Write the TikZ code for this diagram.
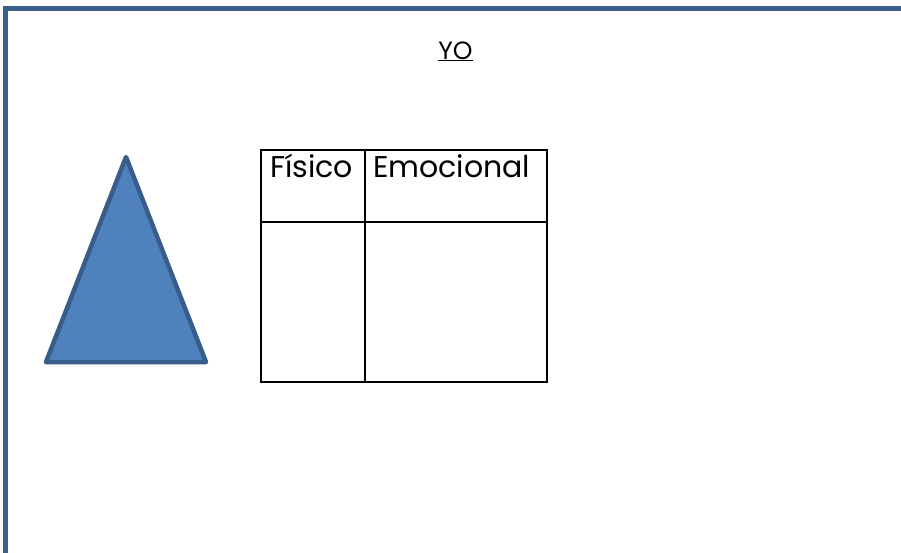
\documentclass[tikz,border=0pt]{standalone}
\usepackage{fontspec}
\setmainfont{Poppins}
\definecolor{frameblue}{HTML}{3A5F8C}
\definecolor{trifill}{HTML}{4F81BD}
\definecolor{triline}{HTML}{385D8A}
\tikzset{
  frameline/.style={draw=frameblue, line width=5pt},
  triangleshape/.style={draw=triline, fill=trifill, line width=4.5pt, line join=round},
  gridline/.style={draw=black, line width=2pt},
  celltext/.style={font=\fontsize{30}{35}\selectfont, inner sep=0pt, anchor=base west},
}
\begin{document}
\begin{tikzpicture}[x=1pt,y=-1pt]
\useasboundingbox (0,0) rectangle (901,552);
\fill[white] (0,0) rectangle (901,552);
% outer frame (extends beyond right and bottom)
\draw[frameline] (5.5,570) -- (5.5,8.5) -- (920,8.5);
% title
\node[font=\fontsize{25}{30}\selectfont, inner sep=0pt, anchor=base] (title) at (455.5,59) {\underline{YO}};
% triangle
\coordinate (tA) at (126,157);
\coordinate (tB) at (46,362);
\coordinate (tC) at (206,362);
\draw[triangleshape] (tA) -- (tB) -- (tC) -- cycle;
% table
\draw[gridline] (261,150) rectangle (547,382);
\draw[gridline] (365,150) -- (365,382);
\draw[gridline] (261,222) -- (547,222);
\node[celltext] (fisico) at (270,177) {Físico};
\node[celltext] (emocional) at (373,177) {Emocional};
\end{tikzpicture}
\end{document}
